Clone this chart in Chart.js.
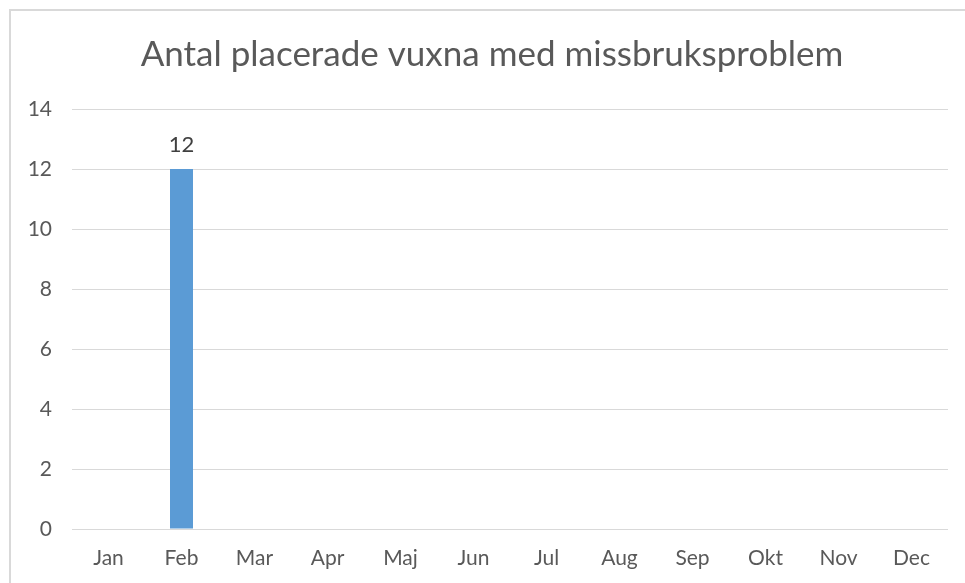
<!DOCTYPE html>
<html>
<head>
<meta charset="utf-8">
<script src="https://cdn.jsdelivr.net/npm/chart.js@4"></script>
<style>
  html, body { margin: 0; padding: 0; background: #fff; }
  #wrap { position: relative; width: 965px; height: 583px; }
</style>
</head>
<body>
<div id="wrap"><canvas id="placerade"></canvas></div>
<script>
const months = ['Jan', 'Feb', 'Mar', 'Apr', 'Maj', 'Jun', 'Jul', 'Aug', 'Sep', 'Okt', 'Nov', 'Dec']
const antal = [null, 12, null, null, null, null, null, null, null, null, null, null]
const yTicks = [0, 2, 4, 6, 8, 10, 12, 14]

const FONT = 'Lato, "Open Sans", sans-serif'
const GREY = '#595959'

// simple value labels above the bars (no datalabels plugin offline)
const valueLabels = {
  id: 'valueLabels',
  afterDatasetsDraw(chart) {
    const ctx = chart.ctx
    ctx.save()
    ctx.font = '22px ' + FONT
    ctx.fillStyle = '#404040'
    ctx.textAlign = 'center'
    ctx.textBaseline = 'alphabetic'
    chart.getDatasetMeta(0).data.forEach((bar, i) => {
      const v = antal[i]
      if (v === null) return
      ctx.fillText(String(v), bar.x, bar.y - 17)
    })
    ctx.restore()
  },
}

// outer frame like the spreadsheet chart box, title centred on the box
const frame = {
  id: 'frame',
  afterLayout(chart) {
    if (chart.titleBlock) chart.titleBlock.left = 36
  },
  beforeDraw(chart) {
    const ctx = chart.ctx
    ctx.save()
    ctx.strokeStyle = '#d9d9d9'
    ctx.lineWidth = 2
    ctx.beginPath()
    ctx.moveTo(10, chart.height)
    ctx.lineTo(10, 10)
    ctx.lineTo(chart.width, 10)
    ctx.stroke()
    ctx.restore()
  },
}

const ctxPlacerade = document.getElementById('placerade').getContext('2d')
const placeradeChart = new Chart(ctxPlacerade, {
  type: 'bar',
  data: {
    labels: months,
    datasets: [
      {
        data: antal,
        backgroundColor: '#5B9BD5',
        categoryPercentage: 1,
        barPercentage: 0.315,
      },
    ],
  },
  options: {
    responsive: true,
    maintainAspectRatio: false,
    animation: false,
    layout: { padding: { top: 10, right: 17, bottom: 0, left: 0 } },
    plugins: {
      legend: { display: false },
      tooltip: { enabled: false },
      title: {
        display: true,
        text: 'Antal placerade vuxna med missbruksproblem',
        color: GREY,
        font: { family: FONT, size: 35, weight: 'normal' },
        padding: { top: 24, bottom: 33 },
      },
    },
    scales: {
      x: {
        grid: { display: false, drawTicks: false },
        border: { display: false },
        ticks: { color: GREY, font: { family: FONT, size: 21 }, padding: 17 },
        afterFit: scale => { scale.height = 54 },
      },
      y: {
        min: 0,
        max: 14,
        afterBuildTicks: scale => { scale.ticks = yTicks.map(v => ({ value: v })) },
        grid: { color: '#d9d9d9', drawTicks: false },
        border: { display: false },
        ticks: { color: GREY, font: { family: FONT, size: 21 }, padding: 20 },
        afterFit: scale => { scale.width = 72 },
      },
    },
  },
  plugins: [frame, valueLabels],
})
</script>
</body>
</html>
